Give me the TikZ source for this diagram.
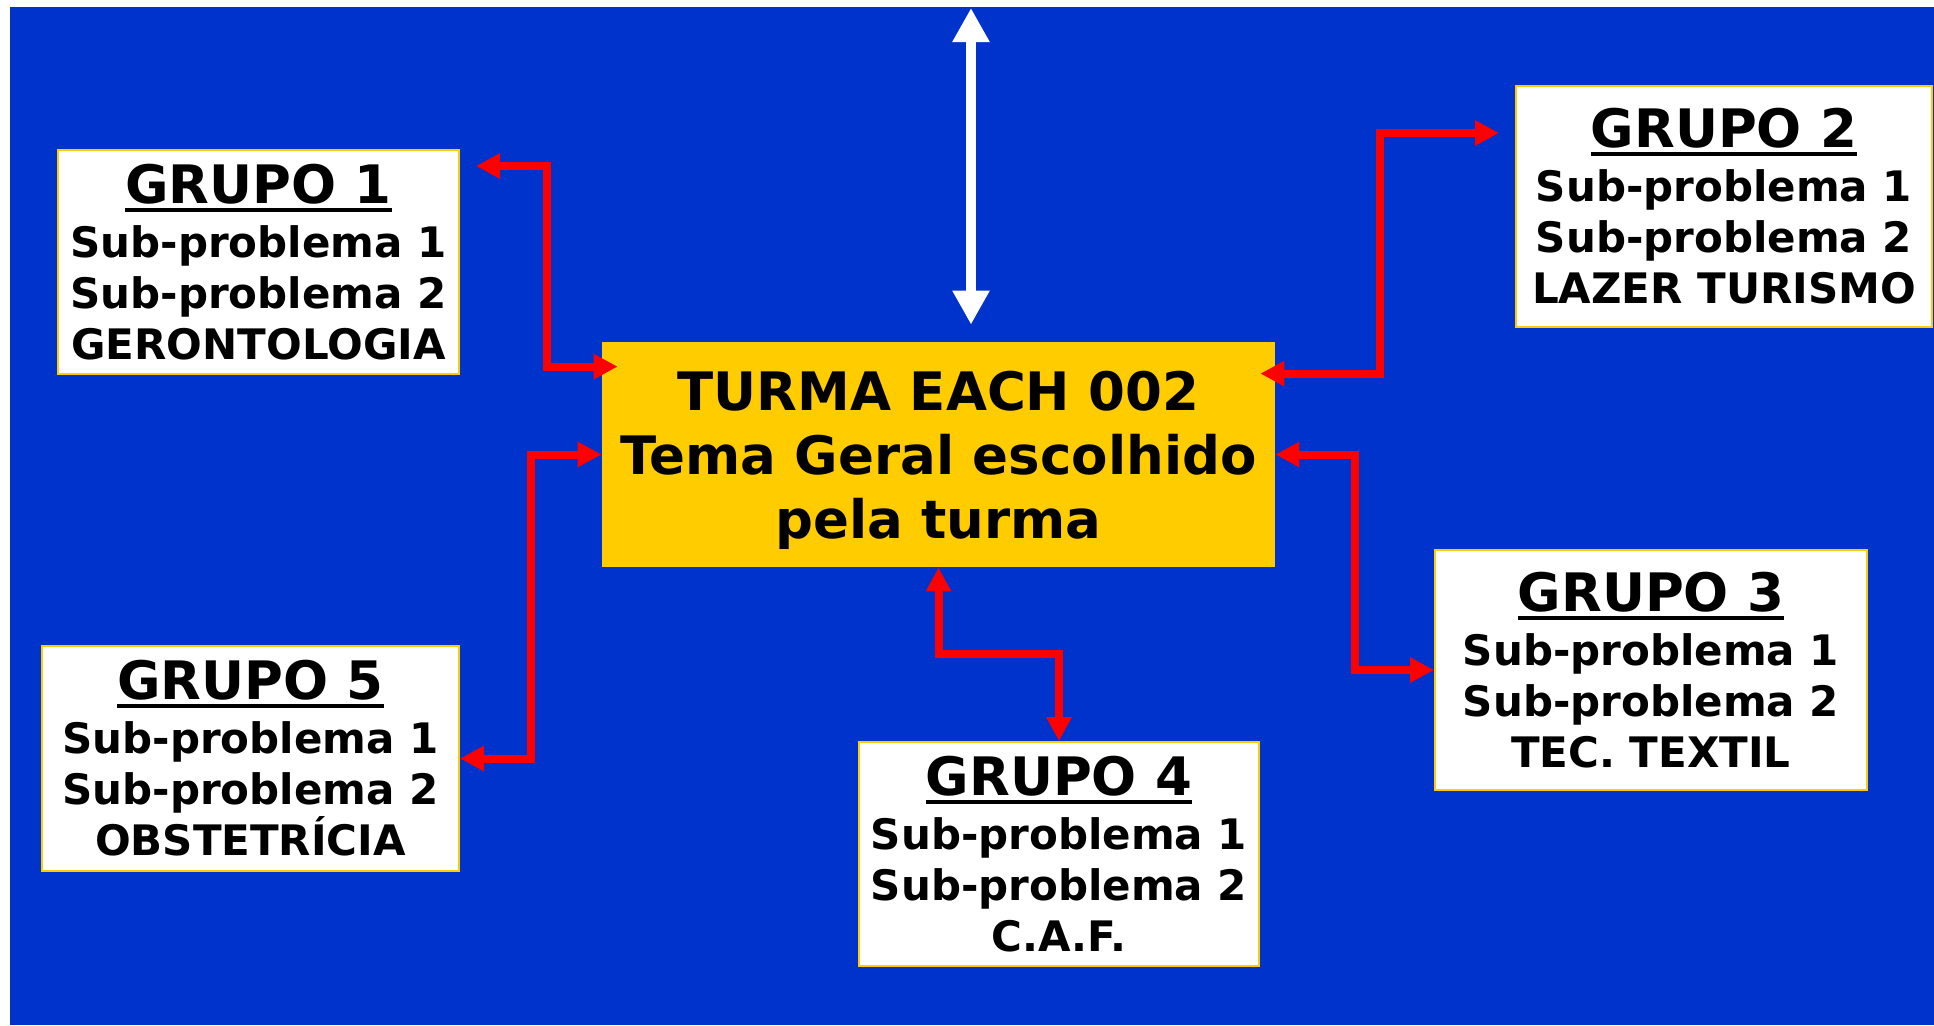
\documentclass[tikz,border=0pt]{standalone}
\usepackage{fontspec}
\setmainfont{DejaVu Sans}
\usetikzlibrary{calc,arrows.meta}
\definecolor{slideblue}{RGB}{0,51,204}
\definecolor{gold}{RGB}{255,204,0}
\newcommand{\grupo}[1]{{\fontsize{26.5}{30}\selectfont\setbox0\hbox{GRUPO #1}%
  \rlap{\rule[-4.2pt]{\wd0}{2.1pt}}\box0}}

\begin{document}
\begin{tikzpicture}[x=0.5pt, y=-0.5pt,
  grp/.style={draw=gold, line width=1pt, fill=white, align=center, inner sep=0pt,
              font=\bfseries\fontsize{21}{25.5}\selectfont},
  tema/.style={fill=gold, align=center, inner sep=0pt, minimum width=336.5pt,
               minimum height=112.5pt, text depth=0pt, font=\bfseries\fontsize{26.5}{32}\selectfont},
  ar/.style={red, line width=4pt, {Triangle[length=12pt,width=12pt]}-{Triangle[length=12pt,width=12pt]}},
  war/.style={white, line width=5pt, {Triangle[length=17pt,width=17.5pt]}-{Triangle[length=17pt,width=17.5pt]}}
]
\useasboundingbox (0,0) rectangle (1934,1025);
\fill[white] (0,0) rectangle (1934,1025);
\fill[slideblue] (10,7) rectangle (1934,1025);

\node[tema] (turma) at (938.5,454.5) {TURMA EACH 002\\ Tema Geral escolhido~\\ pela turma};
\node[grp, minimum width=200.5pt, minimum height=112pt] (g1) at (258.5,262)
  {\grupo{1}\\[1.5pt] Sub-problema 1\\ Sub-problema 2\\ GERONTOLOGIA};
\node[grp, minimum width=208pt, minimum height=120.5pt] (g2) at (1724,206.5)
  {\grupo{2}\\[1.5pt] Sub-problema 1\\ Sub-problema 2\\ LAZER TURISMO};
\node[grp, minimum width=216pt, minimum height=120pt] (g3) at (1651,670)
  {\grupo{3}\\[1.5pt] Sub-problema 1\\ Sub-problema 2\\ TEC. TEXTIL};
\node[grp, minimum width=200pt, minimum height=112pt] (g4) at (1059,854)
  {\grupo{4}\\[1.5pt] Sub-problema 1\\ Sub-problema 2\\ C.A.F.};
\node[grp, minimum width=208.5pt, minimum height=112.5pt] (g5) at (250.5,758.5)
  {\grupo{5}\\[1.5pt] Sub-problema 1\\ Sub-problema 2\\ OBSTETRÍCIA};

\coordinate (topo) at (971,8);
\draw[war, shorten >=8.5pt] (topo) -- (topo |- turma.north);

\coordinate (s1) at ([xshift=8pt,yshift=-8.5pt]g1.north east);
\coordinate (e1) at ([xshift=8pt,yshift=-12.5pt]turma.north west);
\draw[ar] (s1) -| ($(s1)!.5!(e1)$) |- (e1);
\coordinate (s2) at ([xshift=-7.5pt,yshift=-16pt]turma.north east);
\coordinate (e2) at ([xshift=-8pt,yshift=-24pt]g2.north west);
\draw[ar] (s2) -| ($(s2)!.5!(e2)$) |- (e2);
\draw[ar] (turma.east) -| ($(turma.east)!.5!(g3.west)$) |- (g3.west);
\draw[ar] (turma.south) |- ($(turma.south)!.5!(g4.north)$) -| (g4.north);
\draw[ar] (turma.west) -| ($(turma.west)!.5!(g5.east)$) |- (g5.east);
\end{tikzpicture}
\end{document}
